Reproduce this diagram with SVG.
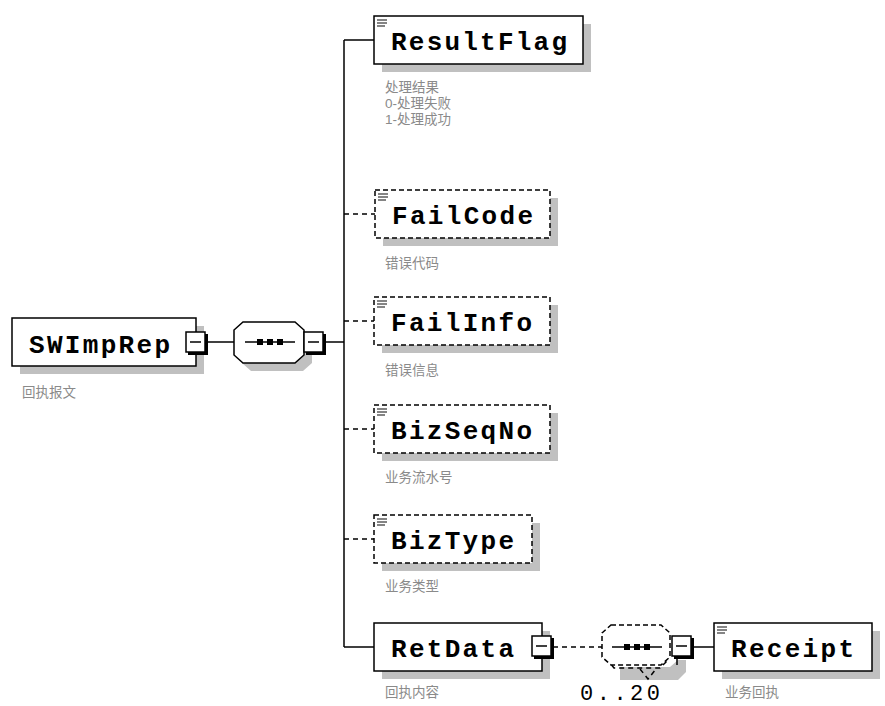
<svg xmlns="http://www.w3.org/2000/svg" xmlns:xlink="http://www.w3.org/1999/xlink" width="885" height="706" viewBox="0 0 885 706">
<style>
.bg{fill:#fff}
.box{fill:#fff;stroke:#000;stroke-width:1.5}
.dbox{fill:#fff;stroke:#000;stroke-width:1.5;stroke-dasharray:5 3}
.shadow{fill:#c0c0c0}
.name{font-family:"Liberation Mono","DejaVu Sans Mono",monospace;font-weight:bold;font-size:26px;fill:#000}
.doc{font-family:"Liberation Sans","Noto Sans CJK SC",sans-serif;font-size:13.5px;fill:#8a8a8a}
.card{font-family:"Liberation Mono","DejaVu Sans Mono",monospace;font-size:22px;fill:#000}
.ln{stroke:#000;stroke-width:1.5;fill:none}
.dln{stroke:#000;stroke-width:1.5;fill:none;stroke-dasharray:5 4}
.icon{stroke:#333;stroke-width:1.2}
</style>
<defs>
<g id="minus">
<rect x="2" y="2" width="20" height="21" fill="#000"/>
<rect x="0" y="0" width="19" height="20" fill="#fff" stroke="#000" stroke-width="1.5"/>
<line x1="4" y1="10" x2="15" y2="10" stroke="#000" stroke-width="1.5"/>
</g>
<g id="doc-icon">
<line class="icon" x1="3" y1="4" x2="13" y2="4"/>
<line class="icon" x1="3" y1="7" x2="13" y2="7"/>
<line class="icon" x1="3" y1="10" x2="11" y2="10"/>
</g>
<g id="seqdots">
<line x1="0" y1="0" x2="50" y2="0" stroke="#000" stroke-width="1.5"/>
<rect x="12" y="-3" width="6" height="6" fill="#000"/>
<rect x="22" y="-3" width="6" height="6" fill="#000"/>
<rect x="32" y="-3" width="6" height="6" fill="#000"/>
</g>
</defs>
<rect class="bg" x="0" y="0" width="885" height="706"/>

<g id="connectors">
<line class="ln" x1="208" y1="342" x2="234" y2="342"/>
<line class="ln" x1="326" y1="342" x2="344" y2="342"/>
<line class="ln" x1="344" y1="40" x2="344" y2="647"/>
<line class="ln" x1="344" y1="40" x2="374" y2="40"/>
<line class="dln" x1="344" y1="214" x2="375" y2="214"/>
<line class="dln" x1="344" y1="321" x2="374" y2="321"/>
<line class="dln" x1="344" y1="429" x2="374" y2="429"/>
<line class="dln" x1="344" y1="539" x2="374" y2="539"/>
<line class="ln" x1="344" y1="647" x2="374" y2="647"/>
<line class="dln" x1="553" y1="647" x2="602" y2="647"/>
<line class="ln" x1="693" y1="647" x2="714" y2="647"/>
</g>

<g id="SWImpRep">
<rect class="shadow" x="20" y="326" width="184" height="48"/>
<rect class="box" x="12" y="318" width="184" height="48"/>
<text class="name" x="29" y="353" textLength="141" lengthAdjust="spacing">SWImpRep</text>
<use xlink:href="#minus" x="186" y="332"/>
<text class="doc" x="22" y="397">回执报文</text>
</g>

<g id="sequence1">
<path class="shadow" d="M251,330 H303 L312,338 V363 L303,371 H251 L242,363 V338 Z"/>
<path class="box" d="M243,322 H295 L304,330 V355 L295,363 H243 L234,355 V330 Z"/>
<use xlink:href="#seqdots" x="245" y="342"/>
<use xlink:href="#minus" x="304" y="332"/>
</g>

<g id="ResultFlag">
<rect class="shadow" x="382" y="24" width="209" height="48"/>
<rect class="box" x="374" y="16" width="209" height="48"/>
<use xlink:href="#doc-icon" x="374" y="16"/>
<text class="name" x="391" y="50" textLength="176" lengthAdjust="spacing">ResultFlag</text>
<text class="doc" x="385" y="92">处理结果</text>
<text class="doc" x="385" y="108">0-处理失败</text>
<text class="doc" x="385" y="124">1-处理成功</text>
</g>

<g id="FailCode">
<rect class="shadow" x="383" y="198" width="175" height="48"/>
<rect class="dbox" x="375" y="190" width="175" height="48"/>
<use xlink:href="#doc-icon" x="375" y="190"/>
<text class="name" x="392" y="224" textLength="141" lengthAdjust="spacing">FailCode</text>
<text class="doc" x="385" y="268">错误代码</text>
</g>

<g id="FailInfo">
<rect class="shadow" x="382" y="305" width="176" height="48"/>
<rect class="dbox" x="374" y="297" width="176" height="48"/>
<use xlink:href="#doc-icon" x="374" y="297"/>
<text class="name" x="391" y="331" textLength="141" lengthAdjust="spacing">FailInfo</text>
<text class="doc" x="385" y="375">错误信息</text>
</g>

<g id="BizSeqNo">
<rect class="shadow" x="382" y="413" width="176" height="48"/>
<rect class="dbox" x="374" y="405" width="176" height="48"/>
<use xlink:href="#doc-icon" x="374" y="405"/>
<text class="name" x="391" y="439" textLength="141" lengthAdjust="spacing">BizSeqNo</text>
<text class="doc" x="385" y="482">业务流水号</text>
</g>

<g id="BizType">
<rect class="shadow" x="382" y="523" width="158" height="48"/>
<rect class="dbox" x="374" y="515" width="158" height="48"/>
<use xlink:href="#doc-icon" x="374" y="515"/>
<text class="name" x="391" y="549" textLength="123" lengthAdjust="spacing">BizType</text>
<text class="doc" x="385" y="591">业务类型</text>
</g>

<g id="RetData">
<rect class="shadow" x="382" y="631" width="168" height="48"/>
<rect class="box" x="374" y="623" width="168" height="48"/>
<text class="name" x="391" y="657" textLength="123" lengthAdjust="spacing">RetData</text>
<use xlink:href="#minus" x="532" y="636"/>
<text class="doc" x="385" y="697">回执内容</text>
</g>

<g id="sequence2">
<path class="shadow" d="M620,667 H670 L678,660 H686 V672 L678,680 H620 Z"/>
<path class="dln" d="M606,658 L614,668 H660 L668,660"/>
<path class="dln" d="M640,669 L648,679 L656,669"/>
<path class="dbox" d="M611,625 H661 L670,633 V657 L661,665 H611 L602,657 V633 Z"/>
<use xlink:href="#seqdots" x="612" y="647"/>
<line class="ln" x1="677" y1="658" x2="677" y2="665"/>
<use xlink:href="#minus" x="672" y="636"/>
<text class="card" x="580" y="700" textLength="80" lengthAdjust="spacing">0..20</text>
</g>

<g id="Receipt">
<rect class="shadow" x="722" y="631" width="158" height="48"/>
<rect class="box" x="714" y="623" width="158" height="48"/>
<use xlink:href="#doc-icon" x="714" y="623"/>
<text class="name" x="731" y="657" textLength="123" lengthAdjust="spacing">Receipt</text>
<text class="doc" x="725" y="697">业务回执</text>
</g>
</svg>
